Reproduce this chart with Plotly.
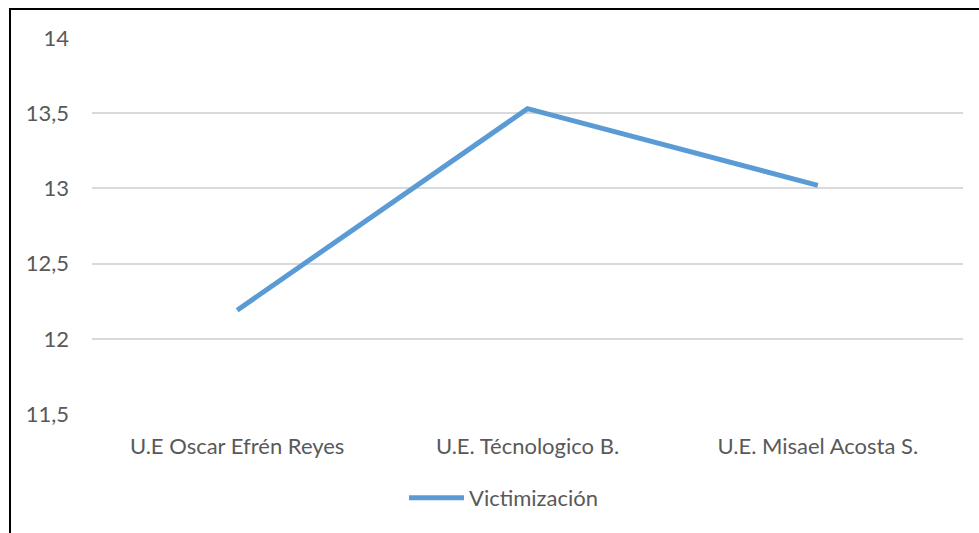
import plotly.graph_objects as go

categories = ["U.E Oscar Efrén Reyes", "U.E. Técnologico B.", "U.E. Misael Acosta S."]
victimizacion = [12.19, 13.53, 13.02]
y_ticks = [11.5, 12, 12.5, 13, 13.5, 14]
y_tick_labels = ["11,5", "12", "12,5", "13", "13,5", "14"]

W, H = 979, 533
L, R, T, B = 92, 16, 38, 119
pw, ph = W - L - R, H - T - B

def px(x):
    return (x - L) / pw

def py(y):
    return (H - B - y) / ph

fig = go.Figure()
fig.add_trace(go.Scatter(
    x=categories, y=victimizacion, mode="lines", name="Victimización",
    line=dict(color="#5B9BD5", width=5),
))

fig.update_layout(
    width=W, height=H,
    margin=dict(l=L, r=R, t=T, b=B, autoexpand=False),
    paper_bgcolor="white", plot_bgcolor="white",
    font=dict(family="Lato, Carlito, sans-serif", size=22, color="#595959"),
    showlegend=True,
    legend=dict(orientation="h", x=px(404), xanchor="left", y=py(498), yanchor="middle",
                itemwidth=55, font=dict(size=22, color="#595959")),
    xaxis=dict(range=[-0.5, 2.5], showgrid=False, showline=False, zeroline=False, ticks="",
               ticklabelstandoff=17, automargin=False),
    yaxis=dict(range=[11.5, 14], tickvals=y_ticks, ticktext=y_tick_labels,
               showgrid=True, gridcolor="#D9D9D9", gridwidth=1.5,
               zeroline=False, showline=False, ticks="", ticklabelstandoff=22,
               automargin=False),
    shapes=[
        dict(type="line", xref="paper", yref="paper", x0=px(10), x1=px(10),
             y0=py(9), y1=py(H + 5), line=dict(color="black", width=2)),
        dict(type="line", xref="paper", yref="paper", x0=px(9), x1=px(W + 5),
             y0=py(9), y1=py(9), line=dict(color="black", width=2)),
    ],
)

fig.write_html("out.html", config={"displayModeBar": False},
               post_script="document.body.style.margin='0';")
